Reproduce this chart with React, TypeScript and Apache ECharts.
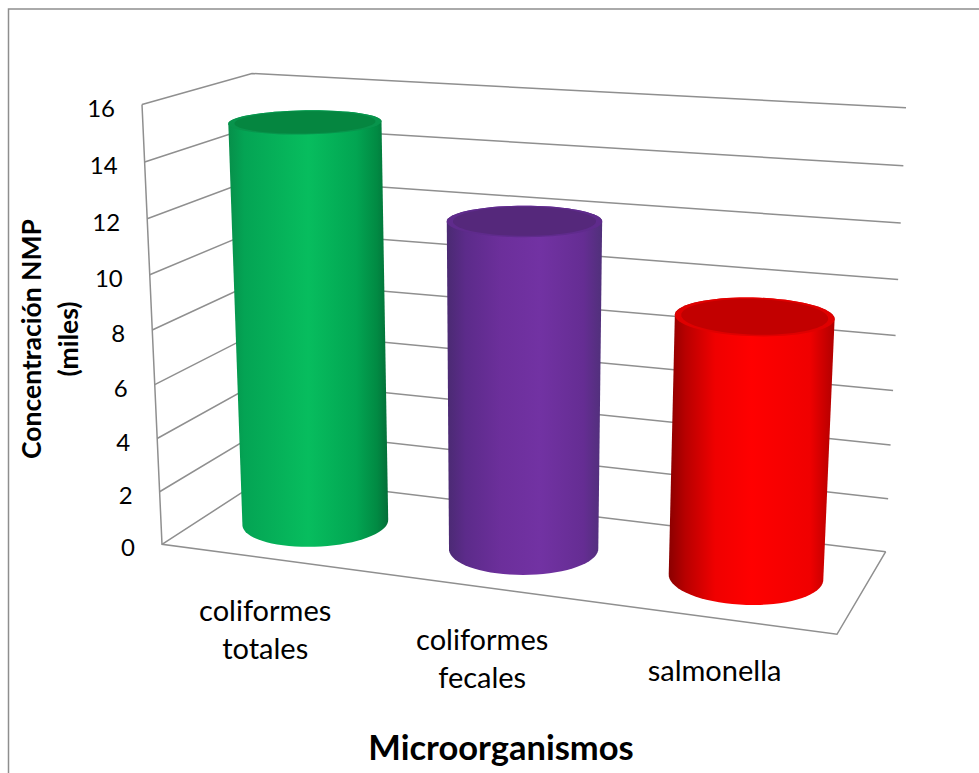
import React, { useEffect, useRef } from "react";
import * as echarts from "echarts";

const categories = ["coliformes\ntotales", "coliformes\nfecales", "salmonella"];
const concentration = [15, 12, 9.3];
const yTicks = [0, 2, 4, 6, 8, 10, 12, 14, 16];
const yAxisTitle = "Concentración NMP\n(miles)";
const xAxisTitle = "Microorganismos";

// Scene geometry: the corners of the 3D box on screen, and the cylinder proportions
type Pt = [number, number];
const FLOOR: Pt[] = [[162, 544.3], [837, 634.3], [885.7, 551.7], [266, 477]];
const ROOF: Pt[] = [[142, 104.5], [863, 146.5], [906, 107.7], [252, 73.5]];
const PERSPECTIVE = -0.05;
const RADIUS_U = 0.1085;
const RADIUS_D = 0.33;
const LINE = "#8f8f8f";
const TEXT = "#000000";
const FONT = "Lato, Carlito, sans-serif";

const BODY_STOPS = [
  [[0, "#078f4a"], [0.1, "#04a454"], [0.5, "#07bd5e"], [0.8, "#02a552"], [0.93, "#018a43"], [1, "#046e38"]],
  [[0, "#4a2a72"], [0.12, "#5c2b8a"], [0.35, "#6c2f9b"], [0.6, "#7232a3"], [0.88, "#652d93"], [1, "#50307a"]],
  [[0, "#8a0000"], [0.1, "#b80000"], [0.28, "#f00000"], [0.5, "#ff0000"], [0.85, "#f00000"], [1, "#b00000"]],
];
const ROOF_RIM = ["#08944c", "#5f2b8c", "#df0000"];
const ROOF_FILL = ["#058640", "#55287b", "#c20000"];

function homography(q: Pt[]) {
  const [[x0, y0], [x1, y1], [x2, y2], [x3, y3]] = q;
  const dx1 = x1 - x2, dx2 = x3 - x2, dx3 = x0 - x1 + x2 - x3;
  const dy1 = y1 - y2, dy2 = y3 - y2, dy3 = y0 - y1 + y2 - y3;
  const den = dx1 * dy2 - dx2 * dy1;
  const g = (dx3 * dy2 - dx2 * dy3) / den;
  const h = (dx1 * dy3 - dx3 * dy1) / den;
  const a = x1 - x0 + g * x1, b = x3 - x0 + h * x3;
  const d = y1 - y0 + g * y1, e = y3 - y0 + h * y3;
  return (u: number, v: number): Pt => {
    const w = g * u + h * v + 1;
    return [(a * u + b * v + x0) / w, (d * u + e * v + y0) / w];
  };
}
const floorAt = homography(FLOOR);
const roofAt = homography(ROOF);

// t is the height in the plot space (0 floor, 1 roof), foreshortened by the perspective
function project(u: number, d: number, t: number): Pt {
  const f = (t * (1 + PERSPECTIVE)) / (1 + PERSPECTIVE * t);
  const a = floorAt(u, d), b = roofAt(u, d);
  return [a[0] + (b[0] - a[0]) * f, a[1] + (b[1] - a[1]) * f];
}

function circle(u: number, t: number, scale: number): Pt[] {
  const pts: Pt[] = [];
  for (let i = 0; i < 72; i++) {
    const a = (i / 72) * Math.PI * 2;
    pts.push(project(u + Math.cos(a) * RADIUS_U * scale, 0.5 + Math.sin(a) * RADIUS_D * scale, t));
  }
  return pts;
}

function hull(points: Pt[]): Pt[] {
  const p = [...points].sort((a, b) => a[0] - b[0] || a[1] - b[1]);
  const cross = (o: Pt, a: Pt, b: Pt) => (a[0] - o[0]) * (b[1] - o[1]) - (a[1] - o[1]) * (b[0] - o[0]);
  const lower: Pt[] = [], upper: Pt[] = [];
  for (const q of p) {
    while (lower.length > 1 && cross(lower[lower.length - 2], lower[lower.length - 1], q) <= 0) lower.pop();
    lower.push(q);
  }
  for (const q of p.reverse()) {
    while (upper.length > 1 && cross(upper[upper.length - 2], upper[upper.length - 1], q) <= 0) upper.pop();
    upper.push(q);
  }
  return lower.slice(0, -1).concat(upper.slice(0, -1));
}

const plotSpace = (params: any, api: any, cat: number, value: number) => {
  const cs = params.coordSys;
  const c = api.coord([cat, value]);
  return { u: (c[0] - cs.x) / cs.width, t: (cs.y + cs.height - c[1]) / cs.height };
};

const renderWall = (params: any, api: any) => {
  const value = api.value(1);
  const { t } = plotSpace(params, api, 0, value);
  const lineStyle = { stroke: LINE, lineWidth: 1.5, fill: "none" };
  const children: any[] = [
    { type: "polyline", shape: { points: [project(0, 0, t), project(0, 1, t), project(1, 1, t)] }, style: lineStyle },
  ];
  const front = project(0, 0, t);
  children.push({
    type: "text",
    x: front[0] - 27,
    y: front[1] + 2.5,
    style: { text: String(value), fontFamily: FONT, fontSize: 24, fill: TEXT, align: "right", verticalAlign: "middle" },
  });
  if (value === 0) {
    children.push({
      type: "polyline",
      shape: { points: [project(1, 1, 0), project(1, 0, 0), project(0, 0, 0), project(0, 0, 1)] },
      style: lineStyle,
    });
  }
  return { type: "group", children };
};

const renderCylinder = (params: any, api: any) => {
  const i = api.value(0);
  const { u, t } = plotSpace(params, api, i, api.value(1));
  const base = circle(u, 0, 1);
  const top = circle(u, t, 1);
  const inner = circle(u, t, 0.92);
  const labelAt = project(u, 0, 0);
  return {
    type: "group",
    children: [
      {
        type: "polygon",
        shape: { points: hull(base.concat(top)) },
        style: {
          fill: new echarts.graphic.LinearGradient(
            0, 0, 1, 0,
            BODY_STOPS[i].map(([offset, color]) => ({ offset: offset as number, color: color as string }))
          ),
        },
      },
      { type: "polygon", shape: { points: top }, style: { fill: ROOF_RIM[i] } },
      { type: "polygon", shape: { points: inner }, style: { fill: ROOF_FILL[i] } },
      {
        type: "text",
        x: labelAt[0],
        y: labelAt[1] + 33,
        style: {
          text: categories[i],
          fontFamily: FONT,
          fontSize: 29,
          lineHeight: 37.5,
          fill: TEXT,
          align: "center",
          verticalAlign: "top",
        },
      },
    ],
  };
};

export default function App() {
  const ref = useRef<HTMLDivElement>(null);
  useEffect(() => {
    const chart = echarts.init(ref.current!, null, { renderer: "svg" });
    chart.setOption({
      animation: false,
      backgroundColor: "#ffffff",
      grid: { left: 162, top: 104, width: 675, height: 440 },
      xAxis: { type: "category", data: categories, show: false },
      yAxis: { type: "value", min: 0, max: 16, interval: 2, show: false },
      graphic: [
        {
          type: "polyline",
          shape: { points: [[8.5, 773], [8.5, 9], [979, 9]] },
          style: { stroke: "#8e8e8e", lineWidth: 1.5, fill: "none" },
        },
        {
          type: "text",
          x: 49,
          y: 339,
          rotation: Math.PI / 2,
          style: {
            text: yAxisTitle,
            fontFamily: FONT,
            fontSize: 26.5,
            fontWeight: "bold",
            lineHeight: 37,
            fill: TEXT,
            align: "center",
            verticalAlign: "middle",
          },
        },
        {
          type: "text",
          x: 501,
          y: 746,
          style: {
            text: xAxisTitle,
            fontFamily: FONT,
            fontSize: 34.5,
            fontWeight: "bold",
            fill: TEXT,
            align: "center",
            verticalAlign: "middle",
          },
        },
      ],
      series: [
        { type: "custom", renderItem: renderWall, data: yTicks.map((v) => [0, v]), clip: false, silent: true, z: 1 },
        {
          type: "custom",
          renderItem: renderCylinder,
          data: concentration.map((v, i) => [i, v]),
          clip: false,
          silent: true,
          z: 2,
        },
      ],
    });
    return () => chart.dispose();
  }, []);
  return (
    <div
      ref={ref}
      style={{ position: "absolute", left: 0, top: 0, width: 979, height: 773, background: "#fff" }}
    />
  );
}
